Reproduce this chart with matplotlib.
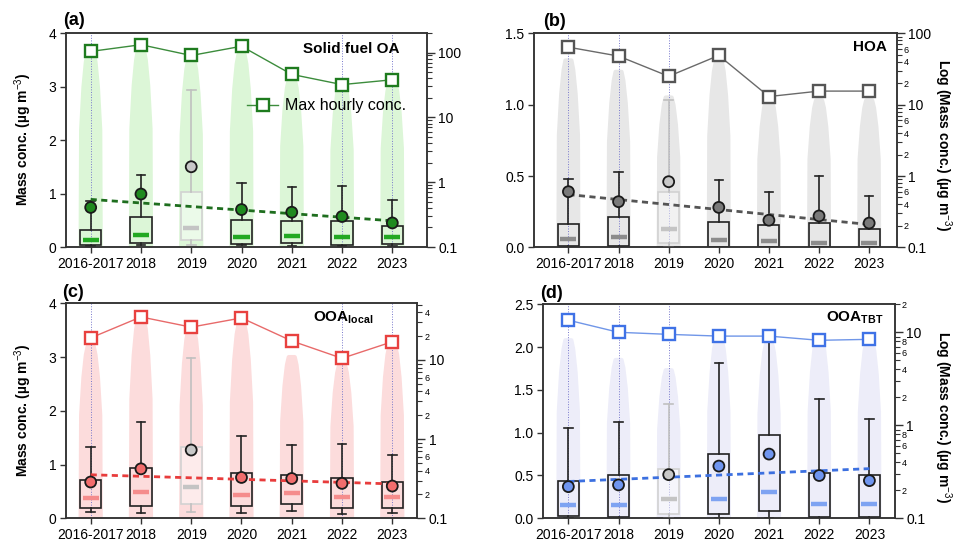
import matplotlib.pyplot as plt
from matplotlib.ticker import LogLocator, FuncFormatter, NullFormatter, FixedLocator

plt.rcParams['font.family'] = ['Liberation Sans', 'DejaVu Sans']
plt.rcParams['mathtext.fontset'] = 'custom'
plt.rcParams['mathtext.rm'] = 'Liberation Sans'
plt.rcParams['mathtext.bf'] = 'Liberation Sans:bold'
plt.rcParams['mathtext.it'] = 'Liberation Sans:italic'

years = ['2016-2017', '2018', '2019', '2020', '2021', '2022', '2023']

# (a) solid fuel OA
sfoa_q1 = [0.04, 0.08, 0.13, 0.06, 0.08, 0.04, 0.05]
sfoa_q3 = [0.31, 0.57, 1.02, 0.50, 0.48, 0.48, 0.39]
sfoa_med = [0.13, 0.23, 0.35, 0.19, 0.20, 0.18, 0.18]
sfoa_mean = [0.74, 0.99, 1.50, 0.70, 0.65, 0.57, 0.45]
sfoa_lo = [0.02, 0.03, 0.03, 0.03, 0.02, 0.02, 0.02]
sfoa_hi = [0.86, 1.35, 2.93, 1.20, 1.13, 1.14, 0.87]
sfoa_max = [104, 132, 90, 125, 46, 32, 38]
sfoa_cloud = [3.64, 3.68, 3.5, 3.6, 3.13, 3.03, 3.07]
sfoa_trend = [0.89, 0.49]

# (b) HOA
hoa_q1 = [0.01, 0.01, 0.03, 0.005, 0.003, 0.002, 0.002]
hoa_q3 = [0.164, 0.21, 0.39, 0.18, 0.157, 0.17, 0.13]
hoa_med = [0.059, 0.075, 0.13, 0.05, 0.045, 0.033, 0.028]
hoa_mean = [0.39, 0.32, 0.46, 0.28, 0.19, 0.22, 0.17]
hoa_lo = [0.0, 0.0, 0.0, 0.0, 0.0, 0.0, 0.0]
hoa_hi = [0.48, 0.53, 1.03, 0.47, 0.39, 0.50, 0.36]
hoa_max = [64, 48, 25, 49, 13, 15.5, 15.5]
hoa_cloud = [1.31, 1.23, 1.05, 1.30, 1.03, 1.03, 1.03]
hoa_trend = [0.37, 0.16]

# (c) OOA local
ooal_q1 = [0.20, 0.23, 0.26, 0.22, 0.26, 0.20, 0.20]
ooal_q3 = [0.72, 0.94, 1.33, 0.84, 0.81, 0.75, 0.67]
ooal_med = [0.38, 0.48, 0.58, 0.44, 0.475, 0.39, 0.39]
ooal_mean = [0.675, 0.92, 1.27, 0.76, 0.74, 0.65, 0.60]
ooal_lo = [0.11, 0.09, 0.11, 0.09, 0.14, 0.08, 0.09]
ooal_hi = [1.33, 1.80, 2.98, 1.53, 1.37, 1.39, 1.17]
ooal_max = [19, 35, 26, 34, 17.4, 10.5, 17]
ooal_cloud = [3.2, 3.7, 3.5, 3.6, 3.0, 2.85, 3.2]
ooal_trend = [0.81, 0.64]

# (d) OOA TBT
ooat_q1 = [0.027, 0.02, 0.055, 0.05, 0.08, 0.01, 0.01]
ooat_q3 = [0.44, 0.51, 0.58, 0.755, 0.97, 0.53, 0.51]
ooat_med = [0.156, 0.156, 0.22, 0.22, 0.31, 0.167, 0.17]
ooat_mean = [0.37, 0.39, 0.51, 0.61, 0.75, 0.50, 0.44]
ooat_lo = [0.0, 0.0, 0.0, 0.0, 0.0, 0.0, 0.0]
ooat_hi = [1.05, 1.12, 1.34, 1.81, 2.14, 1.39, 1.16]
ooat_max = [13.5, 10, 9.5, 9.1, 9.1, 8.2, 8.4]
ooat_cloud = [2.08, 1.85, 1.73, 2.08, 2.04, 2.08, 2.06]
ooat_trend = [0.43, 0.58]

# shape of the point clouds (fraction of height, fraction of half width)
cloud_h = [0.0, 0.6, 0.82, 0.95, 1.0]
cloud_w = [1.0, 0.95, 0.72, 0.48, 0.3]

panels = [
    dict(tag='(a)', title=r'Solid fuel OA', q1=sfoa_q1, q3=sfoa_q3, med=sfoa_med, mean=sfoa_mean,
         lo=sfoa_lo, hi=sfoa_hi, mx=sfoa_max, cloud=sfoa_cloud, trend=sfoa_trend,
         rect=[0.0688, 0.5451, 0.3760, 0.3941], xlim=(-0.49, 6.69), ylim=(0, 4),
         yticks=[0, 1, 2, 3, 4], yfmt='%d', rlim=(0.1, 200), rminor=[],
         cc='#dcf6d7', sq='#1e7b1e', sql='#3c8c3c', mc='#1f8a1f', md='#22a822', tr='#1e6e1e',
         guides=[0, 5, 6], title_xy=(0.925, 0.905), tag_xy=(0.0656, 0.963)),
    dict(tag='(b)', title='HOA', q1=hoa_q1, q3=hoa_q3, med=hoa_med, mean=hoa_mean,
         lo=hoa_lo, hi=hoa_hi, mx=hoa_max, cloud=hoa_cloud, trend=hoa_trend,
         rect=[0.5566, 0.5445, 0.3775, 0.3941], xlim=(-0.68, 6.55), ylim=(0, 1.5),
         yticks=[0, 0.5, 1.0, 1.5], yfmt='%.1f', rlim=(0.1, 100), rminor=[2, 4, 6],
         cc='#e7e7e7', sq='#555555', sql='#6a6a6a', mc='#7a7a7a', md='#8c8c8c', tr='#555555',
         guides=[0, 1, 2], title_xy=(0.973, 0.919), tag_xy=(0.5656, 0.961)),
    dict(tag='(c)', title=r'$\mathbf{OOA_{local}}$', q1=ooal_q1, q3=ooal_q3, med=ooal_med, mean=ooal_mean,
         lo=ooal_lo, hi=ooal_hi, mx=ooal_max, cloud=ooal_cloud, trend=ooal_trend,
         rect=[0.0688, 0.0455, 0.3660, 0.3959], xlim=(-0.49, 6.5), ylim=(0, 4),
         yticks=[0, 1, 2, 3, 4], yfmt='%d', rlim=(0.1, 52), rminor=[2, 4, 6],
         cc='#fcdcdc', sq='#e8413f', sql='#e86a6a', mc='#f26d6d', md='#f58c8c', tr='#e83c3c',
         guides=[0, 5, 6], title_xy=(0.874, 0.914), tag_xy=(0.0646, 0.462)),
    dict(tag='(d)', title=r'$\mathbf{OOA_{TBT}}$', q1=ooat_q1, q3=ooat_q3, med=ooat_med, mean=ooat_mean,
         lo=ooat_lo, hi=ooat_hi, mx=ooat_max, cloud=ooat_cloud, trend=ooat_trend,
         rect=[0.5659, 0.0455, 0.3664, 0.3941], xlim=(-0.50, 6.51), ylim=(0, 2.5),
         yticks=[0, 0.5, 1.0, 1.5, 2.0, 2.5], yfmt='%.1f', rlim=(0.1, 20), rminor=[2, 4, 6, 8],
         cc='#ededf9', sq='#3f72e6', sql='#7096e8', mc='#6f95ef', md='#7ea3f2', tr='#3c70e0',
         guides=[0, 1, 2], title_xy=(0.966, 0.919), tag_xy=(0.5625, 0.460)),
]

grey = 2  # 2019 drawn faded
grey_mean, grey_med, grey_box, grey_wh = '#c8c8c8', '#c4c4c4', '#d2d2d2', '#c0c0c0'

fig = plt.figure(figsize=(9.6, 5.43), dpi=100)

for p in panels:
    ax = fig.add_axes(p['rect'])
    x = list(range(len(years)))

    # point clouds
    hw = 0.2
    for i, top in enumerate(p['cloud']):
        ys = [h * top for h in cloud_h]
        ys[0] = -0.1
        xl = [i - w * hw for w in cloud_w]
        xr = [i + w * hw for w in cloud_w]
        ax.fill(xl + xr[::-1], ys + ys[::-1], facecolor=p['cc'], edgecolor=p['cc'],
                lw=3, joinstyle='round', zorder=1)

    for g in p['guides']:
        ax.axvline(g, color='#7777cc', ls=':', lw=0.7, zorder=1.5)

    stats = [dict(med=p['med'][i], q1=p['q1'][i], q3=p['q3'][i], whislo=p['lo'][i],
                  whishi=p['hi'][i], fliers=[]) for i in x]
    art = ax.bxp(stats, positions=x, widths=0.42, showfliers=False, patch_artist=True,
                 boxprops=dict(facecolor='none', edgecolor='#222222', lw=1.2),
                 whiskerprops=dict(color='#222222', lw=1.2),
                 capprops=dict(color='#222222', lw=1.2),
                 medianprops=dict(visible=False), capwidths=0.17, manage_ticks=False,
                 zorder=3)
    art['boxes'][grey].set_edgecolor(grey_box)
    art['boxes'][grey].set_facecolor((1, 1, 1, 0.45))
    for a in art['whiskers'][2 * grey:2 * grey + 2] + art['caps'][2 * grey:2 * grey + 2]:
        a.set_color(grey_wh)

    med_colors = [grey_med if i == grey else p['md'] for i in x]
    ax.hlines(p['med'], [i - 0.16 for i in x], [i + 0.16 for i in x], colors=med_colors,
              lw=3.2, zorder=4)

    ax.plot([x[0], x[-1]], p['trend'], color=p['tr'], lw=2.0, dashes=(2.2, 1.6), zorder=4.5)

    mean_colors = [grey_mean if i == grey else p['mc'] for i in x]
    ax.scatter(x, p['mean'], s=62, c=mean_colors, edgecolors='#1a1a1a', linewidths=1.3, zorder=6)

    ax.set_xlim(p['xlim'])
    ax.set_ylim(p['ylim'])
    ax.set_xticks(x)
    ax.set_xticklabels(years, fontsize=10)
    ax.set_yticks(p['yticks'])
    ax.set_yticklabels([p['yfmt'] % v for v in p['yticks']], fontsize=10)
    ax.tick_params(axis='both', length=4, width=1, color='#333333', pad=3)
    for s in ax.spines.values():
        s.set_linewidth(1.1)
        s.set_color('#333333')

    # max hourly conc. on log axis
    ax2 = ax.twinx()
    ax2.set_yscale('log')
    ln, = ax2.plot(x, p['mx'], '-s', color=p['sql'], lw=1.0, mfc='white', mec=p['sq'],
                   ms=8, mew=1.7, label='Max hourly conc.')
    ax2.set_ylim(p['rlim'])
    ax2.set_xlim(p['xlim'])
    ax2.yaxis.set_major_locator(FixedLocator([0.1, 1, 10, 100]))
    ax2.yaxis.set_major_formatter(FuncFormatter(lambda v, pos: '%g' % v))
    ax2.yaxis.set_minor_locator(LogLocator(base=10, subs=range(2, 10)))
    if p['rminor']:
        lab = p['rminor']
        ax2.yaxis.set_minor_formatter(FuncFormatter(
            lambda v, pos, lab=lab: '%d' % round(v / 10 ** int(f'{v:e}'.split('e')[1]))
            if round(v / 10 ** int(f'{v:e}'.split('e')[1])) in lab else ''))
    else:
        ax2.yaxis.set_minor_formatter(NullFormatter())
    ax2.tick_params(axis='y', which='major', length=6, width=1, labelsize=10, pad=2, color='#333333')
    ax2.tick_params(axis='y', which='minor', length=3.5, width=0.8, labelsize=6.5, pad=1.5, color='#333333')
    for s in ax2.spines.values():
        s.set_linewidth(1.1)
        s.set_color('#333333')

    if p['tag'] == '(a)':
        ax2.legend(handles=[ln], loc='center left', bbox_to_anchor=(0.50, 0.659), frameon=False,
                   borderpad=0, borderaxespad=0, handlelength=2.0, handletextpad=0.4, fontsize=11.5)

    ax.text(p['title_xy'][0], p['title_xy'][1], p['title'], transform=ax.transAxes, ha='right',
            va='baseline', fontsize=11, fontweight='bold', zorder=10)
    fig.text(p['tag_xy'][0], p['tag_xy'][1], p['tag'], ha='left', va='center', fontsize=13,
             fontweight='bold')

fig.text(0.024, 0.744, 'Mass conc. (µg m$^{-3}$)', rotation=90, ha='center', va='center',
         fontsize=10, fontweight='bold')
fig.text(0.024, 0.245, 'Mass conc. (µg m$^{-3}$)', rotation=90, ha='center', va='center',
         fontsize=10, fontweight='bold')
fig.text(0.982, 0.733, 'Log (Mass conc.) (µg m$^{-3}$)', rotation=270, ha='center', va='center',
         fontsize=10, fontweight='bold')
fig.text(0.982, 0.232, 'Log (Mass conc.) (µg m$^{-3}$)', rotation=270, ha='center', va='center',
         fontsize=10, fontweight='bold')

fig.savefig('out.png', dpi=100)
